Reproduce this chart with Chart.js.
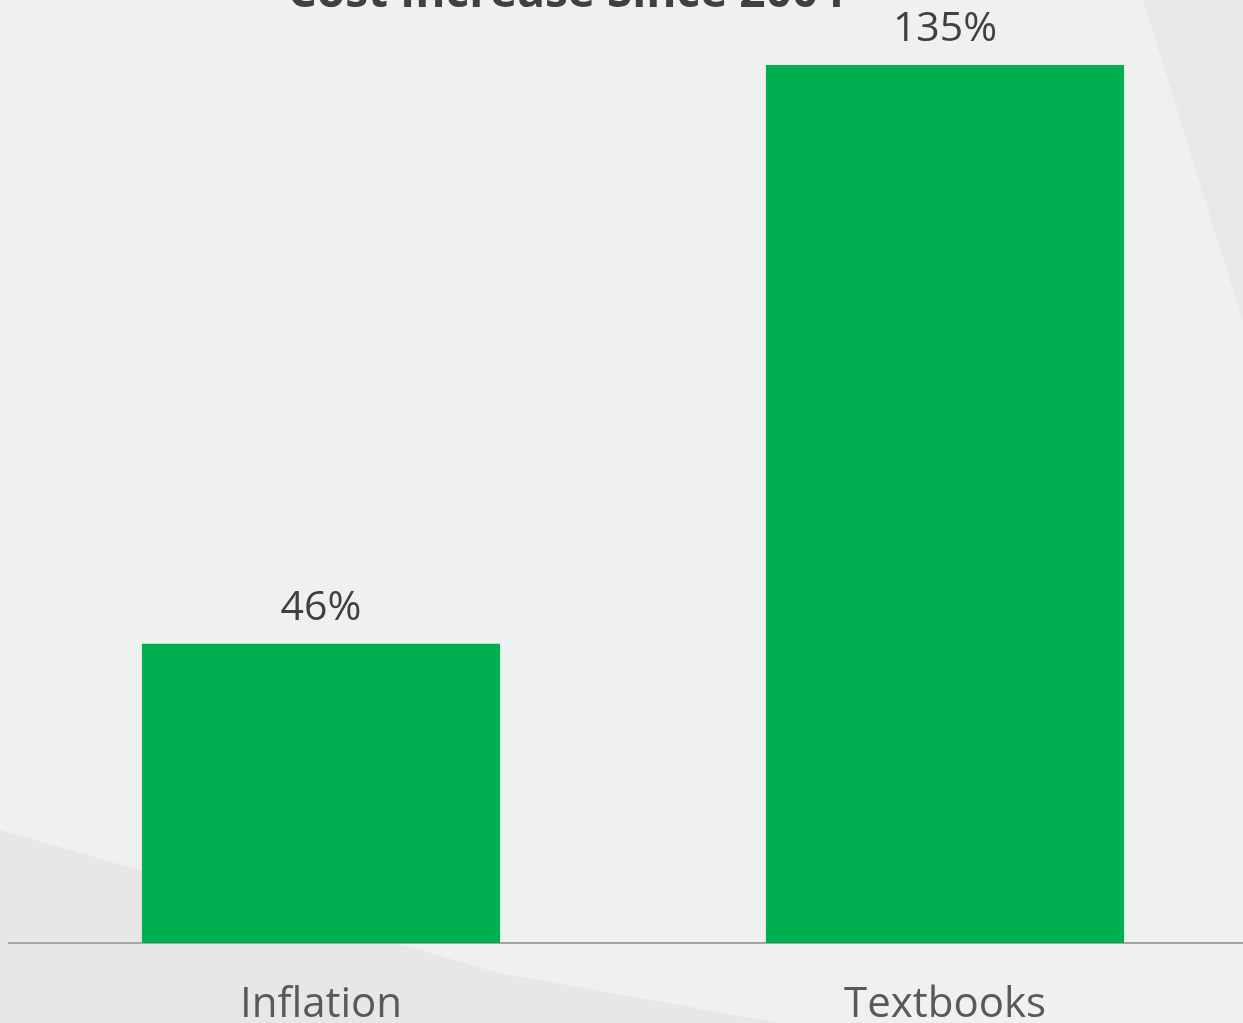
<!DOCTYPE html>
<html>
<head>
<meta charset="utf-8">
<script src="https://cdn.jsdelivr.net/npm/chart.js@4/dist/chart.umd.min.js"></script>
<style>
  html, body { margin: 0; padding: 0; overflow: hidden; background: #EFF1F0; }
  #wrap { position: relative; width: 1265px; height: 1023px; }
  canvas { display: block; }
</style>
</head>
<body>
<div id="wrap"><canvas id="c" width="1265" height="1023" style="width:1265px;height:1023px"></canvas></div>
<script>
const chartTitle = "Cost Increase Since 2004";
const categories = ["Inflation", "Textbooks"];
const increasePct = [46, 135];
const valueLabels = ["46%", "135%"];

const backgroundPlugin = {
  id: 'bg',
  beforeDraw(chart) {
    const ctx = chart.ctx;
    ctx.save();
    ctx.fillStyle = '#EFF1F0';
    ctx.fillRect(0, 0, chart.width, chart.height);
    ctx.fillStyle = '#E7E7E7';
    ctx.beginPath();
    ctx.moveTo(0, 830);
    ctx.lineTo(500, 973);
    ctx.lineTo(780, 1023);
    ctx.lineTo(0, 1023);
    ctx.closePath();
    ctx.fill();
    ctx.fillStyle = '#E8E8E8';
    ctx.beginPath();
    ctx.moveTo(1143, 0);
    ctx.lineTo(1265, 0);
    ctx.lineTo(1265, 360);
    ctx.lineTo(1243, 322);
    ctx.closePath();
    ctx.fill();
    ctx.restore();
  }
};

const labelPlugin = {
  id: 'vlabels',
  afterDatasetsDraw(chart) {
    const ctx = chart.ctx;
    const meta = chart.getDatasetMeta(0);
    ctx.save();
    ctx.font = '41px "Open Sans"';
    ctx.fillStyle = '#404040';
    ctx.textAlign = 'center';
    ctx.textBaseline = 'alphabetic';
    meta.data.forEach((bar, i) => {
      ctx.fillText(valueLabels[i], bar.x, bar.y - 24);
    });
    ctx.font = 'bold 46px "Open Sans"';
    ctx.fillStyle = '#404040';
    ctx.fillText(chartTitle, 566, 7);
    ctx.restore();
  }
};

new Chart(document.getElementById('c'), {
  type: 'bar',
  data: {
    labels: categories,
    datasets: [{
      data: increasePct,
      backgroundColor: '#00AF50',
      borderWidth: 0,
      barPercentage: 1,
      categoryPercentage: 0.574
    }]
  },
  options: {
    responsive: false,
    animation: false,
    devicePixelRatio: 1,
    layout: { padding: { left: 9, right: 8, top: 0, bottom: 0 } },
    plugins: { legend: { display: false }, tooltip: { enabled: false }, title: { display: false } },
    scales: {
      x: {
        grid: { display: false, drawTicks: false },
        border: { display: true, color: '#A6A6A6', width: 2 },
        ticks: { font: { family: 'Open Sans', size: 42 }, color: '#595959', padding: 37, autoSkip: false, maxRotation: 0 },
        afterFit(scale) { scale.height = 80; }
      },
      y: {
        display: false,
        min: 0,
        max: 145
      }
    }
  },
  plugins: [backgroundPlugin, labelPlugin]
});
</script>
</body>
</html>
